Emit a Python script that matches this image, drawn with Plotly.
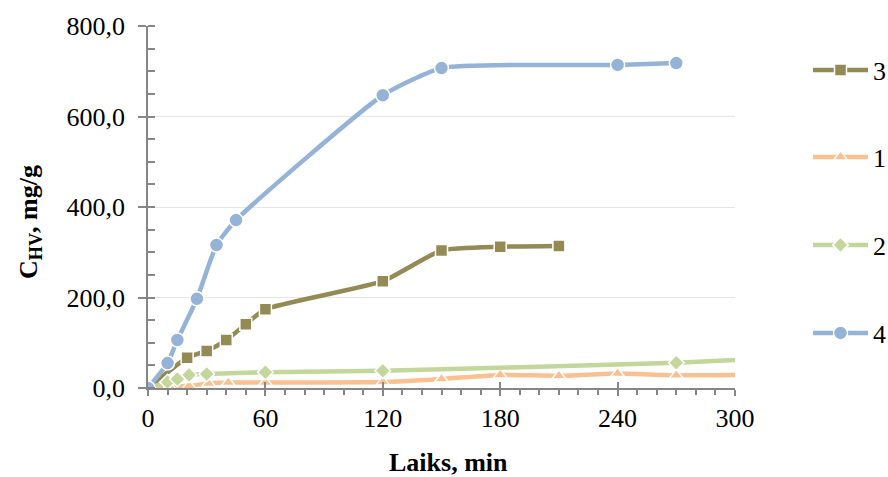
import plotly.graph_objects as go

# Data
x3 = [0, 20, 30, 40, 50, 60, 120, 150, 180, 210]
y3 = [0, 67, 82, 106, 141, 174, 236, 304, 312, 314]

x1 = [0, 11, 21, 31, 41, 60, 120, 150, 180, 210, 240, 270, 330]
y1 = [0, 3, 5, 10, 12, 12, 13, 20, 29, 27, 32, 28, 30]

x2 = [0, 10, 15, 21, 30, 60, 120, 270, 360]
y2 = [0, 13, 20, 29, 31, 35, 38, 56, 74]

x4 = [0, 10, 15, 25, 35, 45, 120, 150, 240, 270]
y4 = [0, 55, 106, 197, 316, 371, 647, 707, 714, 718]

names = ["3", "1", "2", "4"]
colors = ["#948A54", "#FAC090", "#C3D69B", "#95B3D7"]
symbols = ["square", "triangle-up", "diamond", "circle"]
xs = [x3, x1, x2, x4]
ys = [y3, y1, y2, y4]

FONT = "Liberation Serif"
L, R, T, B = 148, 153, 26, 89
W, H = 888, 477
pw, ph = W - L - R, H - T - B

fig = go.Figure()
legend_ids = ["legend", "legend2", "legend3", "legend4"]
legend_py = [70, 157, 245, 333]
for i in range(4):
    fig.add_trace(go.Scatter(
        x=xs[i], y=ys[i], name=names[i], mode="lines+markers",
        line=dict(color=colors[i], width=4.5, shape="spline", smoothing=0.5),
        marker=dict(symbol=symbols[i], size=12 if symbols[i] != "circle" else 14,
                    color=colors[i], line=dict(color="white", width=1.5)),
        legend=legend_ids[i], cliponaxis=True,
    ))

layout_legends = {}
for i, lid in enumerate(legend_ids):
    layout_legends[lid] = dict(
        x=(808 - L) / pw, xanchor="left",
        y=(H - B - legend_py[i]) / ph, yanchor="middle",
        font=dict(family=FONT, size=26, color="black"),
        bgcolor="rgba(0,0,0,0)", itemwidth=55,
    )

fig.update_layout(
    width=W, height=H,
    margin=dict(l=L, r=R, t=T, b=B, autoexpand=False),
    paper_bgcolor="white", plot_bgcolor="white",
    separators=", ",
    showlegend=True,
    font=dict(family=FONT, size=26, color="black"),
    xaxis=dict(
        range=[0, 300], tickvals=[0, 60, 120, 180, 240, 300],
        showgrid=False, zeroline=False,
        showline=True, linecolor="#868686", linewidth=1.5,
        ticks="outside", ticklen=6, tickcolor="#868686", tickwidth=1.5,
        minor=dict(dtick=10, ticks="outside", ticklen=5, tickcolor="#868686", tickwidth=1.5),
        tickfont=dict(family=FONT, size=26, color="black"),
        fixedrange=True,
    ),
    xaxis2=dict(
        range=[0, 300], overlaying="x", tickvals=[0, 60, 120, 180, 240, 300],
        showticklabels=False, showgrid=False, zeroline=False, showline=False,
        ticks="inside", ticklen=6, tickcolor="#868686", tickwidth=1.5,
    ),
    yaxis=dict(
        range=[0, 800], tickvals=[0, 200, 400, 600, 800], tickformat=".1f",
        showgrid=True, gridcolor="#E6E6E6", gridwidth=1, zeroline=False,
        showline=True, linecolor="#868686", linewidth=1.5,
        ticks="outside", ticklen=8, tickcolor="#868686", tickwidth=1.5,
        minor=dict(dtick=50, ticks="inside", ticklen=7, tickcolor="#868686", tickwidth=1.5, showgrid=False),
        tickfont=dict(family=FONT, size=26, color="black"),
        ticklabelstandoff=8,
        fixedrange=True,
    ),
    yaxis2=dict(
        range=[0, 800], overlaying="y", tickvals=[0, 200, 400, 600, 800],
        showticklabels=False, showgrid=False, zeroline=False, showline=False,
        ticks="inside", ticklen=7, tickcolor="#868686", tickwidth=1.5,
    ),
    annotations=[
        dict(text="<b>Laiks, min</b>", xref="paper", yref="paper",
             x=(448 - L) / pw, y=(H - B - 462) / ph, xanchor="center", yanchor="middle",
             showarrow=False, font=dict(family=FONT, size=26, color="black")),
        dict(text="<b>C<sub>HV</sub>, mg/g</b>", xref="paper", yref="paper",
             x=(30 - L) / pw, y=(H - B - 222) / ph, xanchor="center", yanchor="middle",
             textangle=-90, showarrow=False, font=dict(family=FONT, size=26, color="black")),
    ],
    **layout_legends,
)
# invisible trace to activate the overlay axes (crossing ticks)
fig.add_trace(go.Scatter(x=[None], y=[None], xaxis="x2", yaxis="y2", showlegend=False, hoverinfo="skip"))

fig.write_html("out.html")
